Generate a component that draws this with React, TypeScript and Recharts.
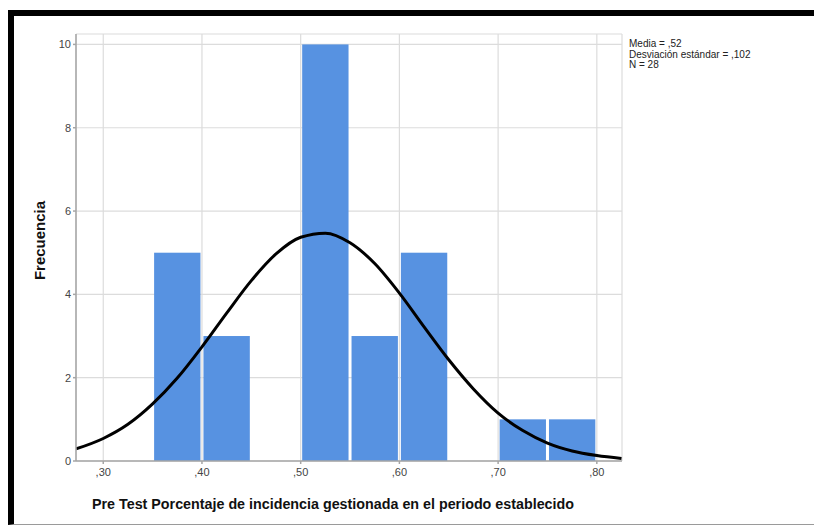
import React from "react";
import {
  CartesianGrid,
  ComposedChart,
  Line,
  ReferenceArea,
  XAxis,
  YAxis,
} from "recharts";

// histogram bins (lower edge, upper edge, frequency)
const BIN_LO = [0.35, 0.4, 0.45, 0.5, 0.55, 0.6, 0.65, 0.7, 0.75];
const BIN_HI = [0.4, 0.45, 0.5, 0.55, 0.6, 0.65, 0.7, 0.75, 0.8];
const FREQ = [5, 3, 0, 10, 3, 5, 0, 1, 1];

// fitted normal curve
const CURVE_X = [
  0.2725, 0.3, 0.325, 0.35, 0.375, 0.4, 0.425, 0.45, 0.475, 0.5, 0.525, 0.55,
  0.575, 0.6, 0.625, 0.65, 0.675, 0.7, 0.725, 0.75, 0.775, 0.8, 0.825,
];
const CURVE_Y = [
  0.29, 0.54, 0.88, 1.37, 1.99, 2.74, 3.55, 4.33, 4.97, 5.37, 5.47, 5.24,
  4.74, 4.03, 3.22, 2.43, 1.73, 1.15, 0.73, 0.43, 0.24, 0.13, 0.06,
];

const X_TICKS = [0.3, 0.4, 0.5, 0.6, 0.7, 0.8];
const Y_TICKS = [0, 2, 4, 6, 8, 10];
const STATS = ["Media = ,52", "Desviación estándar = ,102", "N = 28"];

const X_TITLE = "Pre Test Porcentaje de incidencia gestionada en el periodo establecido";
const Y_TITLE = "Frecuencia";

const FONT = '"Liberation Sans", Arial, sans-serif';
const BAR = "#5792e1";
const GRID = "#dcdcdc";
const AXIS = "#a6a6a6";

const curve = CURVE_X.map((x, i) => ({ x, y: CURVE_Y[i] }));

const barShape = (p: any) => (
  <rect x={p.x + 1.5} y={p.y} width={Math.max(p.width - 3, 0)} height={p.height} fill={BAR} />
);

export default function App() {
  return (
    <div style={{ position: "relative", width: 814, height: 519, fontFamily: FONT }}>
      <div
        style={{
          position: "absolute",
          left: 0,
          top: 2,
          width: 814,
          height: 515,
          boxSizing: "border-box",
          borderTop: "6px solid #000",
          borderLeft: "6px solid #000",
          borderBottom: "1px solid #9a9a9a",
        }}
      />
      <div style={{ position: "absolute", left: 0, top: 0 }}>
        <ComposedChart
          width={814}
          height={519}
          data={curve}
          margin={{ top: 26, right: 200, left: 0, bottom: 36 }}
        >
          <CartesianGrid stroke={GRID} strokeWidth={1.2} />
          <XAxis
            dataKey="x"
            type="number"
            domain={[0.2724, 0.8255]}
            ticks={X_TICKS}
            allowDataOverflow
            height={30}
            tickFormatter={(v: number) => "," + Math.round(v * 100)}
            stroke={AXIS}
            strokeWidth={1.5}
            tickSize={3}
            tickMargin={4}
            tick={{ fill: "#444", fontSize: 11, fontFamily: FONT }}
            label={{
              content: ({ viewBox }: any) => (
                <text
                  x={viewBox.x + viewBox.width / 2 - 16}
                  y={viewBox.y + 48}
                  textAnchor="middle"
                  fontSize={14.3}
                  fontWeight="bold"
                  fontFamily={FONT}
                  fill="#111"
                >
                  {X_TITLE}
                </text>
              ),
            }}
          />
          <YAxis
            type="number"
            domain={[0, 10.25]}
            ticks={Y_TICKS}
            allowDataOverflow
            width={68}
            stroke={AXIS}
            strokeWidth={1.5}
            tickSize={3}
            tickMargin={2}
            tick={{ fill: "#444", fontSize: 11, fontFamily: FONT }}
            label={{
              content: ({ viewBox }: any) => {
                const cx = viewBox.x + 31;
                const cy = viewBox.y + viewBox.height / 2 - 7;
                return (
                  <text
                    x={cx}
                    y={cy}
                    transform={`rotate(-90, ${cx}, ${cy})`}
                    textAnchor="middle"
                    dominantBaseline="central"
                    fontSize={15}
                    fontWeight="bold"
                    fontFamily={FONT}
                    fill="#111"
                  >
                    {Y_TITLE}
                  </text>
                );
              },
            }}
          />
          {FREQ.map((f, i) =>
            f > 0 ? (
              <ReferenceArea
                key={i}
                x1={BIN_LO[i]}
                x2={BIN_HI[i]}
                y1={0}
                y2={f}
                shape={barShape}
                fillOpacity={1}
              />
            ) : null
          )}
          <Line
            dataKey="y"
            type="monotone"
            stroke="#000"
            strokeWidth={3}
            dot={false}
            activeDot={false}
            isAnimationActive={false}
          />
        </ComposedChart>
      </div>
      <div
        style={{
          position: "absolute",
          left: 621,
          top: 31,
          fontSize: 10,
          lineHeight: "10.5px",
          color: "#222",
          whiteSpace: "nowrap",
        }}
      >
        {STATS.map((s) => (
          <div key={s}>{s}</div>
        ))}
      </div>
    </div>
  );
}
